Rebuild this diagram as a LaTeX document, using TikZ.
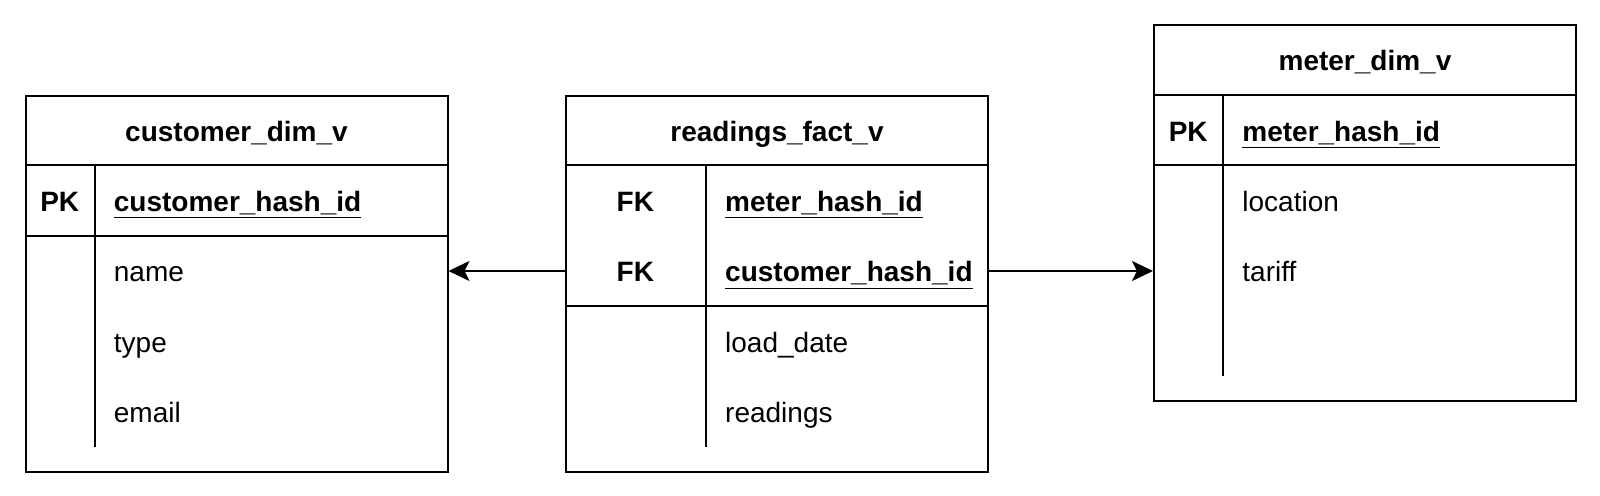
\documentclass[tikz,border=0pt]{standalone}
\usepackage{fontspec}
\setmainfont{Liberation Sans}
\usepackage{tikz}
\usetikzlibrary{
  arrows.meta,
  positioning,
  calc
}
\newcommand{\rowfont}{\fontsize{14}{16}\selectfont}

\begin{document}
\begin{tikzpicture}[x=0.5pt, y=-0.5pt, line width=1pt,
  tbl/.style={draw, anchor=north west, inner sep=0pt, minimum width=211pt, minimum height=188pt},
  ttl/.style={anchor=base, inner sep=0pt, font=\rowfont\bfseries},
  keytxt/.style={anchor=base, inner sep=0pt, font=\rowfont\bfseries},
  fld/.style={anchor=base west, inner sep=0pt, font=\rowfont},
  rel/.style={-{Stealth[length=10.5pt, width=10pt, inset=2.5pt]}}]
  \useasboundingbox (0,0) rectangle (1600,496);

  % customer_dim_v
  \node[tbl] (cust) at (24.5,95) {};
  \node[ttl] (custT) at ($(cust.north)+(0,46.2)$) {customer\_dim\_v};
  \draw ($(cust.north west)+(0,70.4)$) -- ($(cust.north east)+(0,70.4)$);
  \draw ($(cust.north west)+(0,140.8)$) -- ($(cust.north east)+(0,140.8)$);
  \draw ($(cust.north west)+(70.4,70.4)$) -- ($(cust.north west)+(70.4,352)$);
  \node[keytxt] (custPK) at ($(cust.north west)+(35.2,116.6)$) {PK};
  \node[fld, font=\rowfont\bfseries] (custID) at ($(cust.north west)+(88.4,116.6)$) {\underline{customer\_hash\_id}};
  \node[fld] (custName) at ($(cust.north west)+(88.4,187)$) {name};
  \node[fld] (custType) at ($(cust.north west)+(88.4,257.4)$) {type};
  \node[fld] (custMail) at ($(cust.north west)+(88.4,327.8)$) {email};

  % readings_fact_v
  \node[tbl] (read) at (565,95) {};
  \node[ttl] (readT) at ($(read.north)+(0,46.2)$) {readings\_fact\_v};
  \draw ($(read.north west)+(0,70.4)$) -- ($(read.north east)+(0,70.4)$);
  \draw ($(read.north west)+(0,211.2)$) -- ($(read.north east)+(0,211.2)$);
  \draw ($(read.north west)+(140.8,70.4)$) -- ($(read.north west)+(140.8,352)$);
  \node[keytxt] (readFK1) at ($(read.north west)+(70.4,116.6)$) {FK};
  \node[keytxt] (readFK2) at ($(read.north west)+(70.4,187)$) {FK};
  \node[fld, font=\rowfont\bfseries] (readMeter) at ($(read.north west)+(159.2,116.6)$) {\underline{meter\_hash\_id}};
  \node[fld, font=\rowfont\bfseries] (readCust) at ($(read.north west)+(159.2,187)$) {\underline{customer\_hash\_id}};
  \node[fld] (readDate) at ($(read.north west)+(159.2,257.4)$) {load\_date};
  \node[fld] (readVal) at ($(read.north west)+(159.2,327.8)$) {readings};

  % meter_dim_v
  \node[tbl] (meter) at (1153,24.5) {};
  \node[ttl] (meterT) at ($(meter.north)+(0,46.2)$) {meter\_dim\_v};
  \draw ($(meter.north west)+(0,70.4)$) -- ($(meter.north east)+(0,70.4)$);
  \draw ($(meter.north west)+(0,140.8)$) -- ($(meter.north east)+(0,140.8)$);
  \draw ($(meter.north west)+(70.4,70.4)$) -- ($(meter.north west)+(70.4,352)$);
  \node[keytxt] (meterPK) at ($(meter.north west)+(35.2,116.6)$) {PK};
  \node[fld, font=\rowfont\bfseries] (meterID) at ($(meter.north west)+(88.4,116.6)$) {\underline{meter\_hash\_id}};
  \node[fld] (meterLoc) at ($(meter.north west)+(88.4,187)$) {location};
  \node[fld] (meterTar) at ($(meter.north west)+(88.4,257.4)$) {tariff};

  % relations
  \coordinate (readL) at ($(read.north west)+(0,176)$);
  \coordinate (readR) at ($(read.north east)+(0,176)$);
  \draw[rel] (readL) -- (cust.east |- readL);
  \draw[rel] (readR) -- (meter.west |- readR);
\end{tikzpicture}
\end{document}
